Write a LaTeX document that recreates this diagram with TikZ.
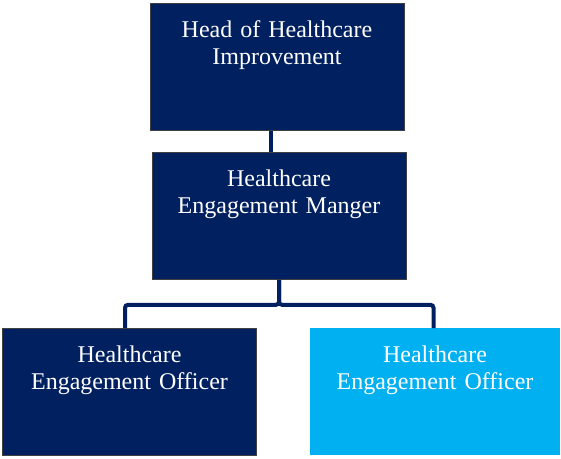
\documentclass[tikz,border=0pt]{standalone}
\usepackage{fontspec}
\setmainfont{Liberation Serif}
\usepackage{tikz}
\definecolor{navy}{HTML}{002060}
\definecolor{sky}{HTML}{00B0F0}

\begin{document}
\begin{tikzpicture}[x=1pt, y=-1pt,
  post/.style={rectangle, anchor=north, inner sep=0pt, minimum width=254pt,
    text width=250pt, align=center, text=white,
    font=\fontsize{24}{27}\selectfont, text height=34pt, text depth=93pt},
  senior/.style={post, fill=navy, draw=black!75, line width=0.8pt},
  junior/.style={post, fill=sky, minimum width=250pt},
  link/.style={draw=navy, line width=4pt, rounded corners=3pt}]
  \useasboundingbox (0,0) rectangle (561,458);

  \node[senior] (head)     at (277,3)     {Head of Healthcare\\Improvement};
  \node[senior] (manager)  at (279,152)   {Healthcare\\Engagement Manger};
  \node[senior] (officerA) at (129.5,328) {Healthcare\\Engagement Officer};
  \node[junior] (officerB) at (435,328)   {Healthcare\\Engagement Officer};

  \draw[link] ([xshift=-6pt]head.south) -- ([xshift=-6pt]head.south |- manager.north);
  \draw[link] (manager.south) -- ++(0,25) -| ([xshift=-4.5pt]officerA.north);
  \draw[link] (manager.south) -- ++(0,25) -| ([xshift=-1.5pt]officerB.north);
\end{tikzpicture}
\end{document}
